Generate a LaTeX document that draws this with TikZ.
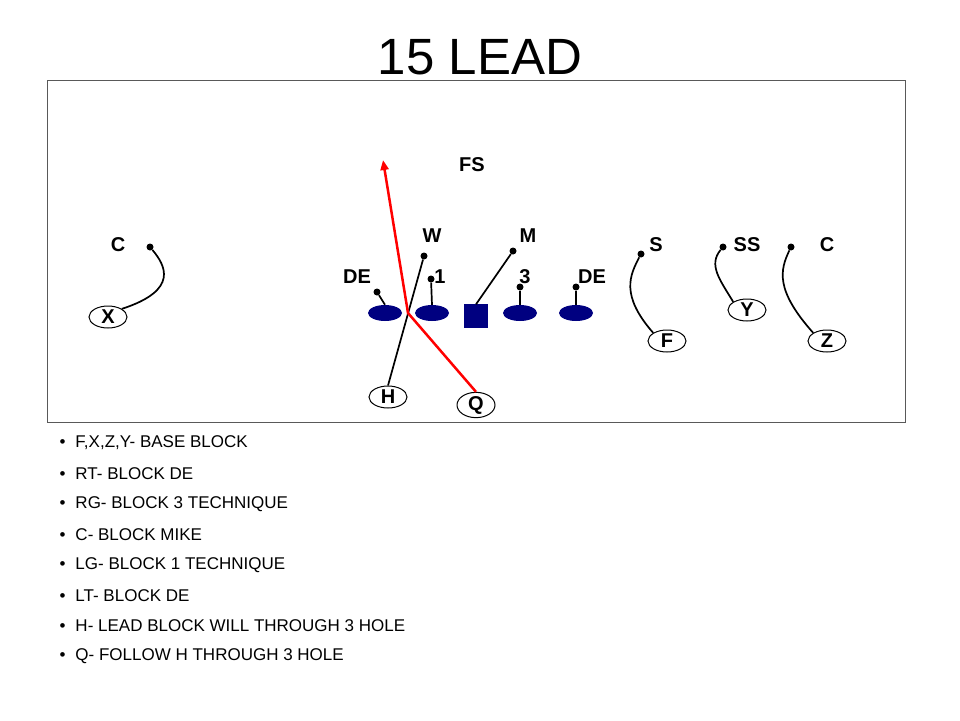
\documentclass[tikz,border=0pt]{standalone}
\usepackage{fontspec}
\setmainfont{Liberation Sans}
\usetikzlibrary{arrows.meta,shapes.geometric}
\definecolor{navy}{RGB}{0,0,128}
\begin{document}
\begin{tikzpicture}[x=1pt,y=-1pt,
  lbl/.style={font=\bfseries\fontsize{20}{22}\selectfont},
  pl/.style={draw,line width=1pt,ellipse,minimum width=38pt,minimum height=22pt,inner sep=0pt,font=\bfseries\fontsize{20}{22}\selectfont},
  dl/.style={ellipse,fill=navy,minimum width=34pt,minimum height=16pt,inner sep=0pt},
  dot/.style={circle,fill=black,inner sep=0pt,minimum size=7pt},
  ln/.style={line width=1.7pt},
  bl/.style={anchor=west,font=\fontsize{17}{19}\selectfont}]
\useasboundingbox (0,0) rectangle (960,720);
\node (title) at (480,57) {\fontsize{51}{56}\selectfont 15 LEAD};
\draw[gray!70!black] (47,80) rectangle (905,422);
\node[lbl] (fs) at (472,165) {FS};
\node[lbl] (wl) at (432,236) {W};
\node[lbl] (ml) at (528,236) {M};
\node[lbl] (del) at (357,277) {DE};
\node[lbl] (onel) at (440,277) {1};
\node[lbl] (threel) at (525,277) {3};
\node[lbl] (der) at (592,277) {DE};
\node[lbl] (sl) at (656,245) {S};
\node[lbl] (ssl) at (747,245) {SS};
\node[lbl] (crl) at (827,245) {C};
\node[lbl] (cll) at (118,245) {C};
\node[dl] (lt) at (385,313) {};
\node[dl] (lg) at (432,313) {};
\node[draw=navy,fill=navy,minimum size=23pt,inner sep=0pt] (ctr) at (476,316) {};
\node[dl] (rg) at (520,313) {};
\node[dl] (rt) at (576,313) {};
\node[pl] (H) at (388,397) {H};
\node[pl] (Q) at (476,405) {Q};
\node[pl] (F) at (667,341) {F};
\node[pl] (Y) at (747,310) {Y};
\node[pl] (Z) at (827,341) {Z};
\node[pl] (X) at (108,317) {X};
\node[dot] (dedl) at (377,292) {};
\node[dot] (d1) at (431,279) {};
\node[dot] (dw) at (424,256) {};
\node[dot] (dm) at (513,251) {};
\node[dot] (d3) at (520,287) {};
\node[dot] (dder) at (576,287) {};
\node[dot] (ds) at (641,254) {};
\node[dot] (dss) at (723,247) {};
\node[dot] (dcr) at (791,247) {};
\node[dot] (dcl) at (150,247) {};
\coordinate (kink) at (408,313);
\coordinate (tip) at (383,160);
\draw[ln] (dedl) -- (lt.north);
\draw[ln] (d1) -- (lg.north);
\draw[ln] (dw) -- (H.north);
\draw[ln] (dm) -- (ctr.north);
\draw[ln] (d3) -- (rg.north);
\draw[ln] (dder) -- (rt.north);
\draw[ln] (ds) .. controls (630,275) and (620,295) .. (F.north west);
\draw[ln] (dss) .. controls (708,265) and (720,280) .. (Y.north west);
\draw[ln] (dcr) .. controls (780,270) and (775,290) .. (Z.north west);
\draw[ln] (dcl) .. controls (165,265) and (180,290) .. (X.north east);
\draw[red,line width=2.5pt,-{Triangle[length=10pt,width=8pt]}] (Q.north) -- (kink) -- (tip);
\node[bl] (b1) at (56,443) {\textbullet\hspace{10pt}F,X,Z,Y- BASE BLOCK};
\node[bl] (b2) at (56,473.5) {\textbullet\hspace{10pt}RT- BLOCK DE};
\node[bl] (b3) at (56,504) {\textbullet\hspace{10pt}RG- BLOCK 3 TECHNIQUE};
\node[bl] (b4) at (56,534.5) {\textbullet\hspace{10pt}C- BLOCK MIKE};
\node[bl] (b5) at (56,565) {\textbullet\hspace{10pt}LG- BLOCK 1 TECHNIQUE};
\node[bl] (b6) at (56,595.5) {\textbullet\hspace{10pt}LT- BLOCK DE};
\node[bl] (b7) at (56,626) {\textbullet\hspace{10pt}H- LEAD BLOCK WILL THROUGH 3 HOLE};
\node[bl] (b8) at (56,656.5) {\textbullet\hspace{10pt}Q- FOLLOW H THROUGH 3 HOLE};
\end{tikzpicture}
\end{document}
